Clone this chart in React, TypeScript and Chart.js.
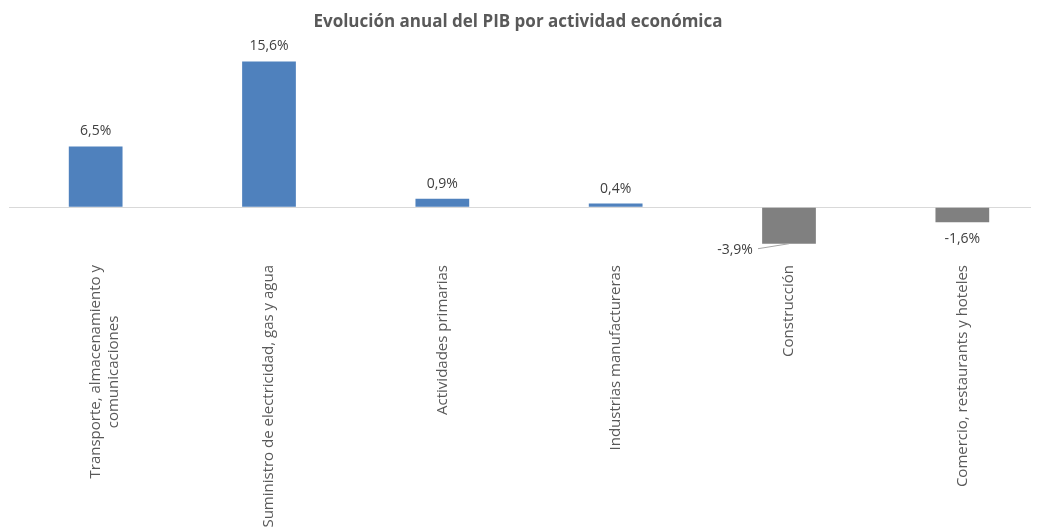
import React, { useEffect, useRef } from "react";
import { Chart, registerables } from "chart.js";

Chart.register(...registerables);

const titleText = "Evolución anual del PIB por actividad económica";
const categories: (string | string[])[] = [
  ["Transporte, almacenamiento y", "comunicaciones             "],
  "Suministro de electricidad, gas y agua",
  "Actividades primarias",
  "Industrias manufactureras",
  "Construcción",
  "Comercio, restaurants y hoteles",
];
const values = [6.5, 15.6, 0.9, 0.4, -3.9, -1.6];
const positiveColor = "#4f81bd";
const negativeColor = "#808080";
const FONT = "'Open Sans', 'DejaVu Sans', sans-serif";

const fmt = (v: number) => v.toFixed(1).replace(".", ",") + "%";

const titlePlugin = {
  id: "centeredTitle",
  afterDraw(chart: any) {
    const ctx = chart.ctx;
    ctx.save();
    ctx.font = `bold 17px ${FONT}`;
    ctx.fillStyle = "#595959";
    ctx.textAlign = "center";
    ctx.textBaseline = "middle";
    // centered on the page window (1039 wide, canvas starts 8px in)
    ctx.fillText(titleText, 510, 14);
    ctx.restore();
  },
};

const dataLabelPlugin = {
  id: "dataLabels",
  afterDatasetsDraw(chart: any) {
    const ctx = chart.ctx;
    const meta = chart.getDatasetMeta(0);
    ctx.save();
    ctx.font = `14px ${FONT}`;
    ctx.fillStyle = "#404040";
    ctx.textAlign = "center";
    ctx.textBaseline = "middle";
    meta.data.forEach((bar: any, i: number) => {
      const v = values[i];
      const text = fmt(v);
      if (v >= 0) {
        ctx.fillText(text, bar.x, bar.y - 15);
      } else if (i === 4) {
        // label moved to the left with a leader line
        const lx = bar.x - 54;
        const ly = bar.y + 6;
        ctx.fillText(text, lx, ly);
        ctx.strokeStyle = "#a6a6a6";
        ctx.lineWidth = 1;
        ctx.beginPath();
        ctx.moveTo(lx + 23, ly - 1);
        ctx.lineTo(bar.x, bar.y);
        ctx.stroke();
      } else {
        ctx.fillText(text, bar.x, bar.y + 17);
      }
    });
    ctx.restore();
  },
};

export default function App() {
  const ref = useRef<HTMLCanvasElement>(null);
  useEffect(() => {
    if (!ref.current) return;
    const chart = new Chart(ref.current, {
      type: "bar",
      data: {
        labels: categories,
        datasets: [
          {
            data: values,
            backgroundColor: values.map((v) => (v >= 0 ? positiveColor : negativeColor)),
            barPercentage: 0.62,
            categoryPercentage: 0.5,
          },
        ],
      },
      options: {
        responsive: false,
        animation: false,
        devicePixelRatio: 1,
        layout: { padding: { left: 1, right: 1, top: 45, bottom: 0 } },
        plugins: {
          legend: { display: false },
          tooltip: { enabled: false },
          title: { display: false },
        },
        scales: {
          x: {
            grid: { display: false, drawTicks: false },
            border: { display: false },
            ticks: {
              minRotation: 90,
              maxRotation: 90,
              autoSkip: false,
              padding: 11,
              color: "#595959",
              font: { family: FONT, size: 15 },
            },
            afterFit: (s: any) => {
              s.height = 277;
            },
          },
          y: {
            min: -5,
            max: 16.5,
            ticks: { display: false, stepSize: 5 },
            border: { display: false },
            grid: {
              drawTicks: false,
              color: (c: any) => (c.tick && c.tick.value === 0 ? "#d9d9d9" : "transparent"),
            },
          },
        },
      },
      plugins: [dataLabelPlugin, titlePlugin],
    });
    return () => chart.destroy();
  }, []);
  return (
    <div style={{ width: 1031, height: 523, overflow: "hidden" }}>
      <canvas ref={ref} width={1042} height={523} style={{ display: "block" }} />
    </div>
  );
}
